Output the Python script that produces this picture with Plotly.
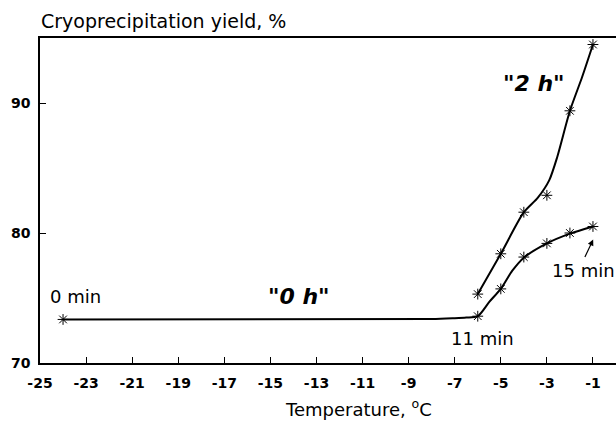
import plotly.graph_objects as go

# ---- data ----
# measured points (asterisks)
lower_x = [-24, -6, -5, -4, -3, -2, -1]
lower_y = [73.35, 73.6, 75.7, 78.15, 79.2, 80.0, 80.5]

upper_x = [-6, -5, -4, -3, -2, -1]
upper_y = [75.3, 78.4, 81.6, 82.9, 89.4, 94.5]

# hand-drawn fitted curves
lower_curve_x = [-24, -8, -7, -6.5, -6, -5.5, -5, -4.5, -4, -3, -2, -1]
lower_curve_y = [73.35, 73.38, 73.45, 73.5, 73.6, 74.7, 75.7, 77.1, 78.1, 79.2, 79.95, 80.5]

upper_curve_x = [-6, -5, -4, -3.4, -2.9, -2.55, -2, -1.47, -1]
upper_curve_y = [75.3, 78.4, 81.6, 82.7, 84.05, 85.85, 89.4, 92.0, 94.5]

x_tick_vals = [-25, -23, -21, -19, -17, -15, -13, -11, -9, -7, -5, -3, -1]
x_tick_text = ["-25", "-23", "-21", "-19", "-17", "-15", "-13", "-11", "-9", "-7", "-5", "-3", "-1"]
y_tick_vals = [70, 80, 90]

FONT = "DejaVu Sans"

fig = go.Figure()

line_style = dict(color="black", width=2, shape="spline", smoothing=0.7)
marker_style = dict(symbol="asterisk-open", size=9, color="black",
                    line=dict(color="black", width=1))

fig.add_trace(go.Scatter(x=lower_curve_x, y=lower_curve_y, mode="lines",
                         line=line_style, hoverinfo="skip", showlegend=False))
fig.add_trace(go.Scatter(x=upper_curve_x, y=upper_curve_y, mode="lines",
                         line=line_style, hoverinfo="skip", showlegend=False))
fig.add_trace(go.Scatter(x=lower_x, y=lower_y, mode="markers",
                         marker=marker_style, showlegend=False))
fig.add_trace(go.Scatter(x=upper_x, y=upper_y, mode="markers",
                         marker=marker_style, showlegend=False))

label_font = dict(family=FONT, size=18, color="black")
quote_font = dict(family=FONT, size=22, color="black")

annotations = [
    dict(x=-23.44, y=75.1, text="0 min", showarrow=False, font=label_font),
    dict(x=-13.75, y=75.1, text='<b><i>"0 h"</i></b>', showarrow=False, font=quote_font),
    dict(x=-3.56, y=91.5, text='<b><i>"2 h"</i></b>', showarrow=False, font=quote_font),
    dict(x=-5.81, y=71.85, text="11 min", showarrow=False, font=label_font),
    dict(x=-2.85, y=77.1, text="15 min", showarrow=False, font=label_font,
         xanchor="left"),
    dict(x=-0.99, y=79.5, ax=-9, ay=19, text="", showarrow=True,
         arrowhead=2, arrowsize=1, arrowwidth=1.2, arrowcolor="black"),
    dict(xref="paper", yref="paper", x=-0.002, y=1.052, xanchor="left", yanchor="middle",
         text="Cryoprecipitation yield, %", showarrow=False,
         font=dict(family=FONT, size=19, color="black")),
    dict(xref="paper", yref="paper", x=0.5525, y=-0.139, xanchor="center", yanchor="middle",
         text="Temperature, <sup>o</sup>C", showarrow=False,
         font=dict(family=FONT, size=18, color="black")),
]

fig.update_layout(
    width=616, height=421,
    margin=dict(l=39.5, r=0, t=37.7, b=58.3, pad=0),
    paper_bgcolor="white", plot_bgcolor="white",
    showlegend=False,
    annotations=annotations,
    xaxis=dict(range=[-25, 0], tickvals=x_tick_vals, ticktext=x_tick_text,
               ticks="inside", ticklen=6, tickwidth=1, tickcolor="black",
               ticklabelstandoff=6,
               showline=True, linecolor="black", linewidth=1.5, mirror=True,
               showgrid=False, zeroline=False,
               tickfont=dict(family=FONT, size=14, color="black", weight="bold")),
    yaxis=dict(range=[70, 95], tickvals=y_tick_vals,
               ticks="inside", ticklen=6, tickwidth=1, tickcolor="black",
               ticklabelstandoff=5,
               showline=True, linecolor="black", linewidth=1.5,
               showgrid=False, zeroline=False,
               tickfont=dict(family=FONT, size=14, color="black", weight="bold")),
)

fig.write_html("out.html",
               config={"displayModeBar": False},
               post_script="document.body.style.margin='0px';"
                           "document.body.style.overflow='hidden';")
